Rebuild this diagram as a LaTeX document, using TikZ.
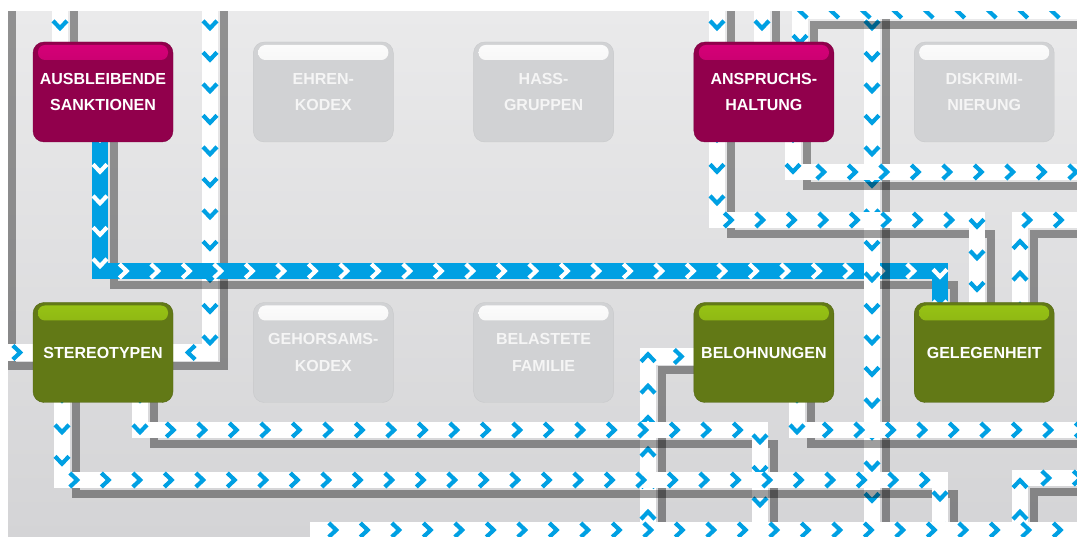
\documentclass[tikz,border=0pt]{standalone}
\usepackage{fontspec}
\setsansfont{Liberation Sans}
\usetikzlibrary{decorations.markings}

\definecolor{arrowblue}{RGB}{0,160,227}
\definecolor{redbody}{RGB}{145,0,76}
\definecolor{redtop}{RGB}{214,0,120}
\definecolor{redbot}{RGB}{160,0,86}
\definecolor{greenbody}{RGB}{98,121,22}
\definecolor{greentop}{RGB}{152,196,20}
\definecolor{greenbot}{RGB}{104,132,20}
\definecolor{greybody}{RGB}{209,210,212}
\definecolor{greyedge}{RGB}{200,201,203}
\definecolor{greytop}{RGB}{252,252,252}
\definecolor{greybot}{RGB}{226,226,227}
\definecolor{greytext}{RGB}{245,245,245}
\definecolor{bgtop}{RGB}{234,234,235}
\definecolor{bgmid}{RGB}{242,242,243}
\definecolor{bgbot}{RGB}{212,212,214}

\pgfdeclarelayer{front}
\pgfsetlayers{main,front}

\tikzset{
  box/.style={rounded corners=11pt, minimum width=140pt, minimum height=100pt, inner sep=0pt,
    align=center, font=\sffamily\bfseries\fontsize{16}{26.5}\selectfont},
  shine/.style 2 args={path picture={\shade[top color=#1, bottom color=#2, rounded corners=7pt]
    ([shift={(5,3)}]path picture bounding box.north west) rectangle
    ([shift={(-5,18)}]path picture bounding box.north east);}},
  redbox/.style={box, fill=redbody, draw=redbody!85!black, text=white, shine={redtop}{redbot}},
  greenbox/.style={box, fill=greenbody, draw=greenbody!85!black, text=white, shine={greentop}{greenbot}},
  greybox/.style={box, fill=greybody, draw=greyedge, text=greytext, shine={greytop}{greybot}},
  chev/.style={line width=4.2pt, line join=miter},
  lane/.style 2 args={line width=16.5pt, draw=#1, postaction={decorate, decoration={markings,
    mark=between positions 14pt and -6pt step 31.5pt with {\draw[chev, draw=#2] (-4.6,7) -- (2.6,0) -- (-4.6,-7);}}}},
  flow/.style={lane={white}{arrowblue}},
  hotflow/.style={lane={arrowblue}{white}},
  drop/.style={line width=8pt, draw=black, draw opacity=0.38, transform canvas={xshift=14pt, yshift=-14pt}}
}
\newcommand{\route}[2][flow]{\draw[drop] #2; \draw[#1] #2;}

\begin{document}
\begin{tikzpicture}[x=1pt, y=-1pt, node distance=220.3pt]
	\fill[white] (0,0) rectangle (1077,537);
	\useasboundingbox (0,0) rectangle (1077,537);
	\shade[top color=bgtop, middle color=bgmid, bottom color=bgbot] (8,12) rectangle (1077,537);

	\begin{pgfonlayer}{front}
		\node[redbox]   (ab) at (103,92)    {AUSBLEIBENDE\\SANKTIONEN};
		\node[greybox]  (ek) [right of = ab] {EHREN-\\KODEX};
		\node[greybox]  (hg) [right of = ek] {HASS-\\GRUPPEN};
		\node[redbox]   (ah) [right of = hg] {ANSPRUCHS-\\HALTUNG};
		\node[greybox]  (dn) [right of = ah] {DISKRIMI-\\NIERUNG};

		\node[greenbox] (st) at (103,352.5) {STEREOTYPEN};
		\node[greybox]  (gk) [right of = st] {GEHORSAMS-\\KODEX};
		\node[greybox]  (bf) [right of = gk] {BELASTETE\\FAMILIE};
		\node[greenbox] (bl) [right of = bf] {BELOHNUNGEN};
		\node[greenbox] (gh) [right of = bl] {GELEGENHEIT};
	\end{pgfonlayer}

	\begin{scope}
		\clip (8,12) rectangle (1077,537);
		\route{(60,-20) -- (60,0 |- ab)}
		\route{(-2,-20) |- (st.center)}
		\route{(210,-20) |- (st.center)}
		\route[hotflow]{(100,0 |- ab) -- (100,271) -| (940,0 |- gh)}
		\route{(872,-20) -- (872,560)}
		\route{(717,-20) -- (717,0 |- ah)}
		\route{(762,-20) -- (762,0 |- ah)}
		\route{(1100,11) -| (800,0 |- ah)}
		\route{(717,0 |- ah) |- (977,220) -- (977,0 |- gh)}
		\route{(793,0 |- ah) |- (1100,172)}
		\route{(1020,0 |- gh) |- (1100,220)}
		\route{(797,0 |- bl) |- (1100,430)}
		\route{(648,560) |- ([yshift=-4pt]bl.center)}
		\route{(1020,560) |- (1100,478)}
		\route{(140,0 |- st) |- (760,430) -- (760,560)}
		\route{(62,0 |- st) |- (940,480) -- (940,560)}
		\route{(318,560) |- (1100,530)}
	\end{scope}
\end{tikzpicture}
\end{document}
